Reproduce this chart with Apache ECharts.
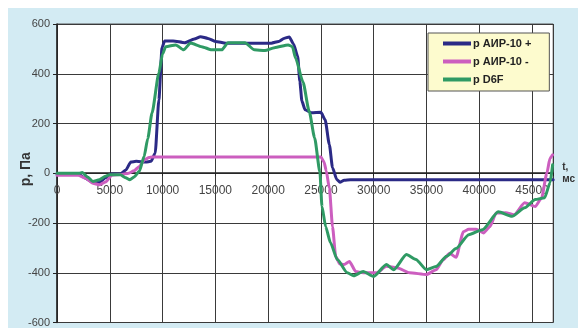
<!DOCTYPE html>
<html>
<head>
<meta charset="utf-8">
<script src="https://cdn.jsdelivr.net/npm/echarts@6/dist/echarts.min.js"></script>
<style>
html,body{margin:0;padding:0;background:#fff;}
#c{width:578px;height:328px;}
</style>
</head>
<body>
<div id="c"></div>
<script>
// Data: [time in ms, pressure in Pa]
const seriesNames = ['p АИР-10 +', 'p АИР-10 -', 'p D6F'];
const xTicks = [0, 5000, 10000, 15000, 20000, 25000, 30000, 35000, 40000, 45000];
const yTicks = [-600, -400, -200, 0, 200, 400, 600];

const airPlus = [
  [0,-3],[2000,-3],[2700,-20],[3300,-35],[4000,-38],[4600,-18],[5100,-3],[6000,-3],
  [6500,12],[7000,45],[7500,48],[8400,45],[8900,48],[9300,80],[9650,295],[9950,505],
  [10200,532],[11000,532],[12100,525],[13000,540],[13600,549],[14300,542],[15000,530],
  [16000,523],[20300,523],[21000,530],[21500,542],[22000,548],[22400,520],[22800,470],
  [23000,370],[23200,290],[23500,255],[24100,243],[25000,245],[25400,215],[25800,115],
  [26100,22],[26500,-25],[26800,-36],[27200,-28],[27800,-26],[47000,-26]
];

const airMinus = [
  [0,-8],[2000,-8],[2700,-20],[3400,-40],[4000,-46],[4600,-35],[5200,-8],[6000,-5],
  [6800,0],[7300,10],[7800,27],[8300,55],[8720,63],[9000,65],[25000,65],[25300,45],
  [25500,10],[25800,-60],[26100,-215],[26400,-335],[26800,-365],[27200,-367],[27700,-355],
  [28300,-395],[29000,-400],[30300,-400],[31200,-374],[32200,-380],[33400,-400],
  [35000,-407],[35900,-388],[36600,-347],[37200,-322],[37800,-338],[38500,-235],
  [39000,-225],[39700,-225],[40400,-240],[41000,-215],[41600,-160],[42500,-159],
  [43300,-167],[44300,-119],[45300,-134],[45900,-100],[46400,0],[46700,60],[46950,74]
];

const dbf = [
  [0,0],[2100,0],[2400,3],[2900,-15],[3400,-33],[4000,-26],[4600,-12],[5000,-6],
  [6000,-6],[6500,-18],[6900,-26],[7300,-15],[7800,8],[8250,67],[8600,140],[9000,242],
  [9650,403],[10000,480],[10300,509],[11250,516],[12000,496],[12650,524],[13700,509],
  [14650,496],[15600,496],[16200,525],[17800,525],[18700,496],[19700,493],[20600,505],
  [21900,516],[22300,509],[22600,463],[23300,367],[23900,247],[24400,143],[24900,6],
  [25100,-134],[25450,-215],[25900,-279],[26550,-347],[27500,-400],[28100,-412],
  [29000,-395],[30000,-415],[31200,-367],[31900,-388],[33100,-327],[34000,-347],
  [35000,-388],[35900,-375],[36900,-334],[37800,-303],[39000,-247],[40300,-227],
  [41800,-155],[43100,-173],[44300,-139],[45300,-106],[46200,-98],[46700,-38],[46950,34]
];

const colors = ['#2b2a86', '#cc5ebf', '#2f9a64'];

const chart = echarts.init(document.getElementById('c'), null, {renderer: 'canvas'});
const font = 'Arial, "Liberation Sans", sans-serif';
const gridTop = 24, gridHeight = 299;

const lineSeries = [airPlus, airMinus, dbf].map((d, i) => ({
  name: seriesNames[i],
  type: 'line',
  data: d,
  showSymbol: false,
  symbol: 'none',
  smooth: 0.2,
  smoothMonotone: 'x',
  lineStyle: {width: 3, color: colors[i], join: 'round', cap: 'round'},
  itemStyle: {color: colors[i]},
  z: 3 + i,
  animation: false
}));

chart.setOption({
  animation: false,
  backgroundColor: '#ffffff',
  textStyle: {fontFamily: font},
  graphic: [{
    type: 'rect', z: -10, silent: true,
    shape: {x: 8, y: 8, width: 570, height: 320},
    style: {fill: '#d3ebf3'}
  }],
  grid: {
    left: 57, top: gridTop, width: 501, height: gridHeight,
    show: true, backgroundColor: '#ffffff', borderColor: '#555555', borderWidth: 1
  },
  legend: {
    orient: 'vertical',
    left: 428, top: 33,
    padding: [5, 18, 6, 15],
    itemGap: 7,
    itemWidth: 28, itemHeight: 4,
    icon: 'rect',
    backgroundColor: '#fdfbce',
    borderColor: '#555555', borderWidth: 1,
    textStyle: {fontFamily: font, fontSize: 11, fontWeight: 'bold', color: '#222', padding: [0,0,0,-3]},
    data: seriesNames
  },
  xAxis: {
    type: 'value',
    min: 0, max: 47000, interval: 5000,
    position: 'bottom',
    offset: -gridHeight / 2,
    name: 't,\nмс',
    nameLocation: 'end',
    nameGap: 9,
    nameMoveOverlap: false,
    nameTextStyle: {fontFamily: font, fontSize: 10, fontWeight: 'bold', color: '#333', align: 'left', lineHeight: 12, padding: [4, 0, 0, 0]},
    axisLine: {onZero: false, lineStyle: {color: '#222', width: 1.5}},
    axisTick: {show: true, inside: false, length: 3, lineStyle: {color: '#222'}},
    axisLabel: {
      fontFamily: font, fontSize: 12, color: '#444', margin: 12,
      customValues: xTicks,
      formatter: v => String(v)
    },
    splitLine: {show: true, lineStyle: {color: '#3a3a3a', width: 1}}
  },
  yAxis: {
    type: 'value',
    min: -600, max: 600, interval: 200,
    name: 'p, Па',
    nameLocation: 'middle',
    nameRotate: 90,
    nameGap: 24,
    nameMoveOverlap: false,
    nameTextStyle: {fontFamily: font, fontSize: 14, fontWeight: 'bold', color: '#333', padding: [0, 0, 0, 8]},
    axisLine: {show: true, lineStyle: {color: '#222', width: 1.5}},
    axisTick: {show: true, length: 4, lineStyle: {color: '#222'}},
    axisLabel: {fontFamily: font, fontSize: 11, color: '#444', margin: 7, customValues: yTicks},
    splitLine: {show: true, lineStyle: {color: '#3a3a3a', width: 1}}
  },
  series: lineSeries
});
</script>
</body>
</html>
